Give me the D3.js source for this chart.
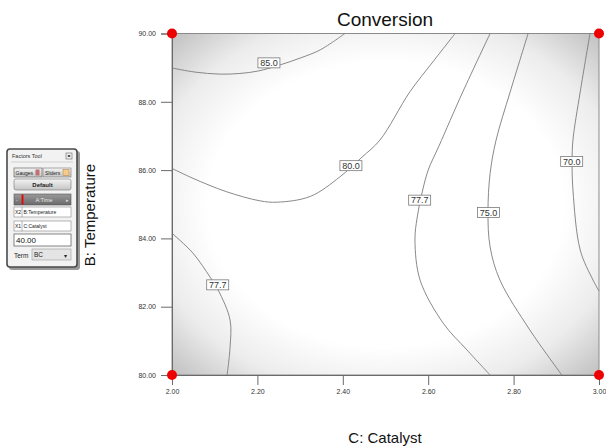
<!DOCTYPE html>
<html><head><meta charset="utf-8">
<script src="https://cdn.jsdelivr.net/npm/d3@7"></script>
<style>
html,body{margin:0;padding:0;background:#fff;}
svg{display:block;font-family:"Liberation Sans",Arial,sans-serif;}
</style></head>
<body>
<svg id="chart" width="606" height="447"></svg>
<script>
// ---------- data ----------
const title = "Conversion";
const xLabel = "C: Catalyst";
const yLabel = "B: Temperature";
const xDomain = [2.0, 3.0];
const yDomain = [80.0, 90.0];
const xTicks = [2.00, 2.20, 2.40, 2.60, 2.80, 3.00];
const yTicks = [80.00, 82.00, 84.00, 86.00, 88.00, 90.00];
const designPoints = [[2.0, 80.0], [2.0, 90.0], [3.0, 80.0], [3.0, 90.0]];

// contour lines, [catalyst, temperature]
const contour85 = [[2.000,88.99],[2.054,88.87],[2.112,88.81],[2.159,88.83],[2.201,88.90],[2.253,89.08],[2.300,89.28],[2.347,89.52],[2.405,90.00]];
const contour80 = [[2.000,86.05],[2.049,85.76],[2.127,85.37],[2.206,85.10],[2.246,85.06],[2.324,85.23],[2.393,85.80],[2.445,86.38],[2.487,86.88],[2.557,88.29],[2.611,89.17],[2.663,90.00]];
const contour777a = [[2.000,84.15],[2.049,83.57],[2.089,82.87],[2.108,82.49],[2.136,81.61],[2.136,80.82],[2.129,80.00]];
const contour777b = [[2.745,80.00],[2.691,80.73],[2.635,81.52],[2.581,82.78],[2.569,83.95],[2.574,84.60],[2.585,85.30],[2.600,86.00],[2.625,86.70],[2.681,88.29],[2.745,90.00]];
const contour75 = [[2.913,80.00],[2.838,81.32],[2.768,82.78],[2.745,83.75],[2.740,84.77],[2.745,85.90],[2.759,86.88],[2.792,88.29],[2.834,90.00]];
const contour70 = [[3.000,82.46],[2.986,82.78],[2.956,83.66],[2.939,85.42],[2.937,86.25],[2.939,86.88],[2.956,88.29],[2.979,90.00]];
const contours = [contour85, contour80, contour777a, contour777b, contour75, contour70];

const contourLabels = ["85.0", "80.0", "77.7", "77.7", "75.0", "70.0"];
const labelX = [2.227, 2.419, 2.107, 2.580, 2.741, 2.936];
const labelY = [89.14, 86.13, 82.64, 85.12, 84.76, 86.25];

// ---------- layout ----------
const svg = d3.select("#chart");
const m = {left:172, right:599, top:33.5, bottom:375};
const x = d3.scaleLinear().domain(xDomain).range([m.left, m.right]);
const y = d3.scaleLinear().domain(yDomain).range([m.bottom, m.top]);

const defs = svg.append("defs");
const rg = defs.append("radialGradient").attr("id","bg")
  .attr("cx","0.5").attr("cy","0.5").attr("r","0.72");
rg.append("stop").attr("offset","0").attr("stop-color","#ffffff");
rg.append("stop").attr("offset","0.58").attr("stop-color","#ffffff");
rg.append("stop").attr("offset","0.78").attr("stop-color","#ececec");
rg.append("stop").attr("offset","1").attr("stop-color","#bcbcbc");

svg.append("rect").attr("x",m.left).attr("y",m.top)
  .attr("width",m.right-m.left).attr("height",m.bottom-m.top)
  .attr("fill","url(#bg)").attr("stroke","#8a8a8a").attr("stroke-width",1);

// contours
const line = d3.line().x(d=>x(d[0])).y(d=>y(d[1])).curve(d3.curveCatmullRom.alpha(0.5));
svg.append("g").selectAll("path").data(contours).join("path")
  .attr("d", line).attr("fill","none").attr("stroke","#7c7c7c").attr("stroke-width",0.9);

// contour labels
const lg = svg.append("g").selectAll("g").data(contourLabels).join("g")
  .attr("transform",(d,i)=>`translate(${x(labelX[i])},${y(labelY[i])})`);
lg.append("rect").attr("x",-11).attr("y",-5).attr("width",22).attr("height",10)
  .attr("fill","#fff").attr("stroke","#7a7a7a").attr("stroke-width",0.8);
lg.append("text").text(d=>d).attr("text-anchor","middle").attr("y",3.2)
  .attr("font-size","9px").attr("fill","#333");

// axes
const xa = svg.append("g").attr("transform",`translate(0,${m.bottom})`)
  .call(d3.axisBottom(x).tickValues(xTicks).tickFormat(d3.format(".2f")).tickSize(10).tickPadding(4));
const ya = svg.append("g").attr("transform",`translate(${m.left},0)`)
  .call(d3.axisLeft(y).tickValues(yTicks).tickFormat(d3.format(".2f")).tickSize(11).tickPadding(5));
[xa,ya].forEach(a=>{
  a.select(".domain").attr("stroke","#6a6a6a");
  a.selectAll(".tick line").attr("stroke","#6a6a6a");
  a.selectAll(".tick text").attr("font-size","7px").attr("fill","#333")
    .attr("font-family","'Liberation Sans',Arial,sans-serif");
});

// design points
svg.append("g").selectAll("circle").data(designPoints).join("circle")
  .attr("cx",d=>x(d[0])).attr("cy",d=>y(d[1])).attr("r",5).attr("fill","#ee0000");

// titles
svg.append("text").text(title).attr("x",385).attr("y",26).attr("text-anchor","middle")
  .attr("font-size","19px").attr("fill","#111");
svg.append("text").text(xLabel).attr("x",385).attr("y",443).attr("text-anchor","middle")
  .attr("font-size","15px").attr("fill","#111");
svg.append("text").text(yLabel).attr("transform","translate(95,215) rotate(-90)")
  .attr("text-anchor","middle").attr("font-size","15px").attr("fill","#111");

// ---------- Factors Tool panel ----------
const p = svg.append("g").attr("font-size","5.5px");
const g1 = defs.append("linearGradient").attr("id","btn").attr("x1",0).attr("y1",0).attr("x2",0).attr("y2",1);
g1.append("stop").attr("offset","0").attr("stop-color","#f4f4f4");
g1.append("stop").attr("offset","1").attr("stop-color","#c4c4c4");
const g2 = defs.append("linearGradient").attr("id","dark").attr("x1",0).attr("y1",0).attr("x2",0).attr("y2",1);
g2.append("stop").attr("offset","0").attr("stop-color","#9a9a9a");
g2.append("stop").attr("offset","1").attr("stop-color","#6a6a6a");

p.append("rect").attr("x",9).attr("y",151).attr("width",71).attr("height",119).attr("rx",3).attr("fill","#9a9a9a");
p.append("rect").attr("x",7).attr("y",149).attr("width",70).attr("height",118).attr("rx",3)
  .attr("fill","#f2f2f2").attr("stroke","#4a4a4a").attr("stroke-width",1.6);
p.append("text").text("Factors Tool").attr("x",12).attr("y",158).attr("fill","#333");
p.append("rect").attr("x",66).attr("y",153).attr("width",6).attr("height",6).attr("fill","#eee").attr("stroke","#666").attr("stroke-width",0.6);
p.append("rect").attr("x",67.8).attr("y",155).attr("width",2.4).attr("height",2).attr("fill","#555");
p.append("line").attr("x1",11).attr("x2",73).attr("y1",162).attr("y2",162).attr("stroke","#bbb").attr("stroke-width",0.6);

p.append("rect").attr("x",14).attr("y",168).attr("width",28).attr("height",9).attr("fill","url(#btn)").attr("stroke","#555").attr("stroke-width",0.6);
p.append("text").text("Gauges").attr("x",15.5).attr("y",175).attr("font-size","5px").attr("fill","#222");
p.append("rect").attr("x",35.5).attr("y",169.5).attr("width",4).attr("height",6).attr("fill","#c07070");
p.append("rect").attr("x",43).attr("y",168).attr("width",28).attr("height",9).attr("fill","url(#btn)").attr("stroke","#777").attr("stroke-width",0.6);
p.append("text").text("Sliders").attr("x",45).attr("y",175).attr("font-size","5px").attr("fill","#222");
p.append("rect").attr("x",63).attr("y",169.5).attr("width",6).attr("height",6).attr("fill","#f7c98c").attr("stroke","#b08040").attr("stroke-width",0.5);

p.append("rect").attr("x",14).attr("y",179).attr("width",57).attr("height",11).attr("rx",2).attr("fill","url(#btn)").attr("stroke","#777").attr("stroke-width",0.6);
p.append("text").text("Default").attr("x",42.5).attr("y",186.8).attr("text-anchor","middle").attr("font-weight","bold").attr("font-size","6px").attr("fill","#222");

p.append("rect").attr("x",14).attr("y",194).attr("width",57).attr("height",11).attr("fill","url(#dark)").attr("stroke","#555").attr("stroke-width",0.6);
p.append("text").text("A:Time").attr("x",44).attr("y",201.5).attr("text-anchor","middle").attr("fill","#e8e8e8");
p.append("text").text("-").attr("x",16).attr("y",201.5).attr("fill","#ddd");
p.append("text").text("▸").attr("x",66).attr("y",202).attr("font-size","5px").attr("fill","#ddd");
p.append("line").attr("x1",22.5).attr("x2",22.5).attr("y1",194.5).attr("y2",204.5).attr("stroke","#ee0000").attr("stroke-width",1.8);

[[207,"X2","B:Temperature"],[221,"X1","C:Catalyst"]].forEach(r=>{
  p.append("rect").attr("x",14).attr("y",r[0]).attr("width",57).attr("height",10).attr("fill","#fff").attr("stroke","#888").attr("stroke-width",0.6);
  p.append("line").attr("x1",22).attr("x2",22).attr("y1",r[0]).attr("y2",r[0]+10).attr("stroke","#888").attr("stroke-width",0.6);
  p.append("text").text(r[1]).attr("x",15).attr("y",r[0]+7).attr("font-size","5px").attr("fill","#222");
  p.append("text").text(r[2]).attr("x",23.5).attr("y",r[0]+7).attr("font-size","5px").attr("fill","#222");
});

p.append("rect").attr("x",14).attr("y",234).attr("width",57).attr("height",12).attr("fill","#fff").attr("stroke","#555").attr("stroke-width",0.7);
p.append("text").text("40.00").attr("x",16).attr("y",243).attr("font-size","8px").attr("fill","#111");

p.append("text").text("Term").attr("x",14).attr("y",257.5).attr("font-size","6.5px").attr("fill","#222");
p.append("rect").attr("x",32).attr("y",249).attr("width",39).attr("height",11).attr("fill","#e4e4e4").attr("stroke","#999").attr("stroke-width",0.6);
p.append("text").text("BC").attr("x",34).attr("y",257).attr("font-size","6.5px").attr("fill","#222");
p.append("text").text("▾").attr("x",64).attr("y",257.5).attr("font-size","6px").attr("fill","#222");
</script>
</body></html>
